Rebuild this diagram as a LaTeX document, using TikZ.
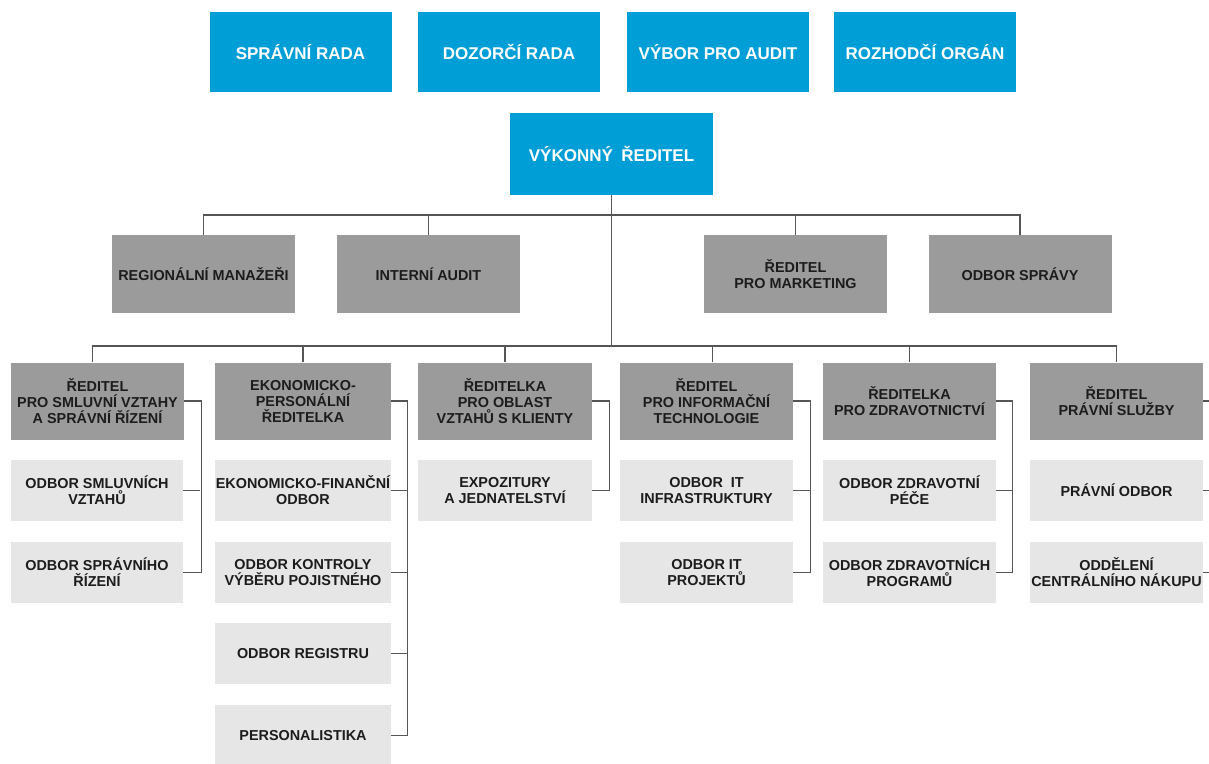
\documentclass[tikz,border=0pt]{standalone}
\usepackage{fontspec}
\setmainfont{Liberation Sans}
\usepackage{tikz}
\usetikzlibrary{positioning}

\definecolor{boardblue}{RGB}{0,158,214}
\definecolor{dirgray}{RGB}{155,155,155}
\definecolor{deptgray}{RGB}{230,230,230}
\definecolor{linegray}{RGB}{85,85,85}
\definecolor{txtdark}{RGB}{28,28,28}

\begin{document}
\begin{tikzpicture}[x=1pt, y=-1pt,
  board/.style={fill=boardblue, text=white, inner sep=0pt,
    font=\bfseries\fontsize{17}{19}\selectfont, minimum width=182, minimum height=80},
  director/.style={fill=dirgray, text=txtdark, inner sep=0pt, align=center,
    font=\bfseries\fontsize{14.4}{16}\selectfont, minimum width=174, minimum height=77},
  dept/.style={fill=deptgray, text=txtdark, inner sep=0pt, align=center,
    font=\bfseries\fontsize{14.4}{16}\selectfont, minimum width=173, minimum height=61},
  link/.style={draw=linegray, line width=1.1pt}]
\useasboundingbox (0,0) rectangle (1209,763);
\clip (0,0) rectangle (1209,763);
\fill[white] (0,0) rectangle (1209,763);

% Boards
\node[board] (sprada) at (300.5,52) {SPRÁVNÍ RADA};
\node[board] (dozrada) at (509,52) {DOZORČÍ RADA};
\node[board] (audvybor) at (718,52) {VÝBOR PRO AUDIT};
\node[board] (rozorgan) at (925,52) {ROZHODČÍ ORGÁN};
\node[board, minimum width=203, minimum height=82] (exec) at (611.5,154) {VÝKONNÝ\enspace ŘEDITEL};

% Staff units
\node[director, minimum width=183, minimum height=78] (regman) at (203.5,274) {REGIONÁLNÍ MANAŽEŘI};
\node[director, minimum width=183, minimum height=78] (intaud) at (428.5,274) {INTERNÍ AUDIT};
\node[director, minimum width=183, minimum height=78] (mktred) at (795.5,274) {ŘEDITEL\\PRO MARKETING};
\node[director, minimum width=183, minimum height=78] (odbspr) at (1020,274) {ODBOR SPRÁVY};

% Directors
\node[director, minimum width=173] (dir1) at (97.5,401) {ŘEDITEL\\PRO SMLUVNÍ VZTAHY\\A SPRÁVNÍ ŘÍZENÍ};
\node[director, minimum width=176] (dir2) at (303,401) {EKONOMICKO-\\PERSONÁLNÍ\\ŘEDITELKA};
\node[director] (dir3) at (505,401) {ŘEDITELKA\\PRO OBLAST\\VZTAHŮ S KLIENTY};
\node[director, minimum width=173] (dir4) at (706.5,401) {ŘEDITEL\\PRO INFORMAČNÍ\\TECHNOLOGIE};
\node[director, minimum width=173] (dir5) at (909.5,401) {ŘEDITELKA\\PRO ZDRAVOTNICTVÍ};
\node[director, minimum width=173] (dir6) at (1116.5,401) {ŘEDITEL\\PRÁVNÍ SLUŽBY};

% Departments
\node[dept, minimum width=172] (d11) at (97,490.5) {ODBOR SMLUVNÍCH\\VZTAHŮ};
\node[dept, minimum width=172] (d12) at (97,572.5) {ODBOR SPRÁVNÍHO\\ŘÍZENÍ};
\node[dept, minimum width=176] (d21) at (303,490.5) {EKONOMICKO-FINANČNÍ\\ODBOR};
\node[dept, minimum width=176] (d22) at (303,572.5) {ODBOR KONTROLY\\VÝBĚRU POJISTNÉHO};
\node[dept, minimum width=176] (d23) at (303,653.5) {ODBOR REGISTRU};
\node[dept, minimum width=176] (d24) at (303,735.5) {PERSONALISTIKA};
\node[dept, minimum width=174] (d31) at (505,490.5) {EXPOZITURY\\A JEDNATELSTVÍ};
\node[dept] (d41) at (706.5,490.5) {ODBOR\ \ IT\\INFRASTRUKTURY};
\node[dept] (d42) at (706.5,572.5) {ODBOR IT\\PROJEKTŮ};
\node[dept] (d51) at (909.5,490.5) {ODBOR ZDRAVOTNÍ\\PÉČE};
\node[dept] (d52) at (909.5,572.5) {ODBOR ZDRAVOTNÍCH\\PROGRAMŮ};
\node[dept] (d61) at (1116.5,490.5) {PRÁVNÍ ODBOR};
\node[dept] (d62) at (1116.5,572.5) {ODDĚLENÍ\\CENTRÁLNÍHO NÁKUPU};

% Buses
\coordinate (bus1) at (0,215);
\coordinate (bus2) at (0,346);
\draw[link] (exec.south) -- (exec.south |- bus2);
\draw[link] (regman.north) -- (regman.north |- bus1) -| (odbspr.north);
\foreach \n in {intaud,mktred}
  \draw[link] (\n.north) -- (\n.north |- bus1);
\draw[link] ([xshift=-5]dir1.north) -- ([xshift=-5]dir1.north |- bus2) -| ([xshift=6]dir4.north) -- ([xshift=6]dir4.north);
\draw[link] ([xshift=6]dir4.north |- bus2) -| (dir6.north);
\foreach \n in {dir2,dir3,dir5}
  \draw[link] (\n.north) -- (\n.north |- bus2);

% Side links
\draw[link] (dir1.east) -- ++(17,0) |- (d12.east);
\draw[link] (d11.east) -- ++(17,0);
\draw[link] (dir2.east) -- ++(16,0) |- (d24.east);
\foreach \n in {d21,d22,d23}
  \draw[link] (\n.east) -- ++(16,0);
\draw[link] (dir3.east) -- ++(17,0) |- (d31.east);
\draw[link] (dir4.east) -- ++(17,0) |- (d42.east);
\draw[link] (d41.east) -- ++(17,0);
\draw[link] (dir5.east) -- ++(16,0) |- (d52.east);
\draw[link] (d51.east) -- ++(16,0);
\draw[link] (dir6.east) -- ++(17,0) |- (d62.east);
\draw[link] (d61.east) -- ++(17,0);
\end{tikzpicture}
\end{document}
